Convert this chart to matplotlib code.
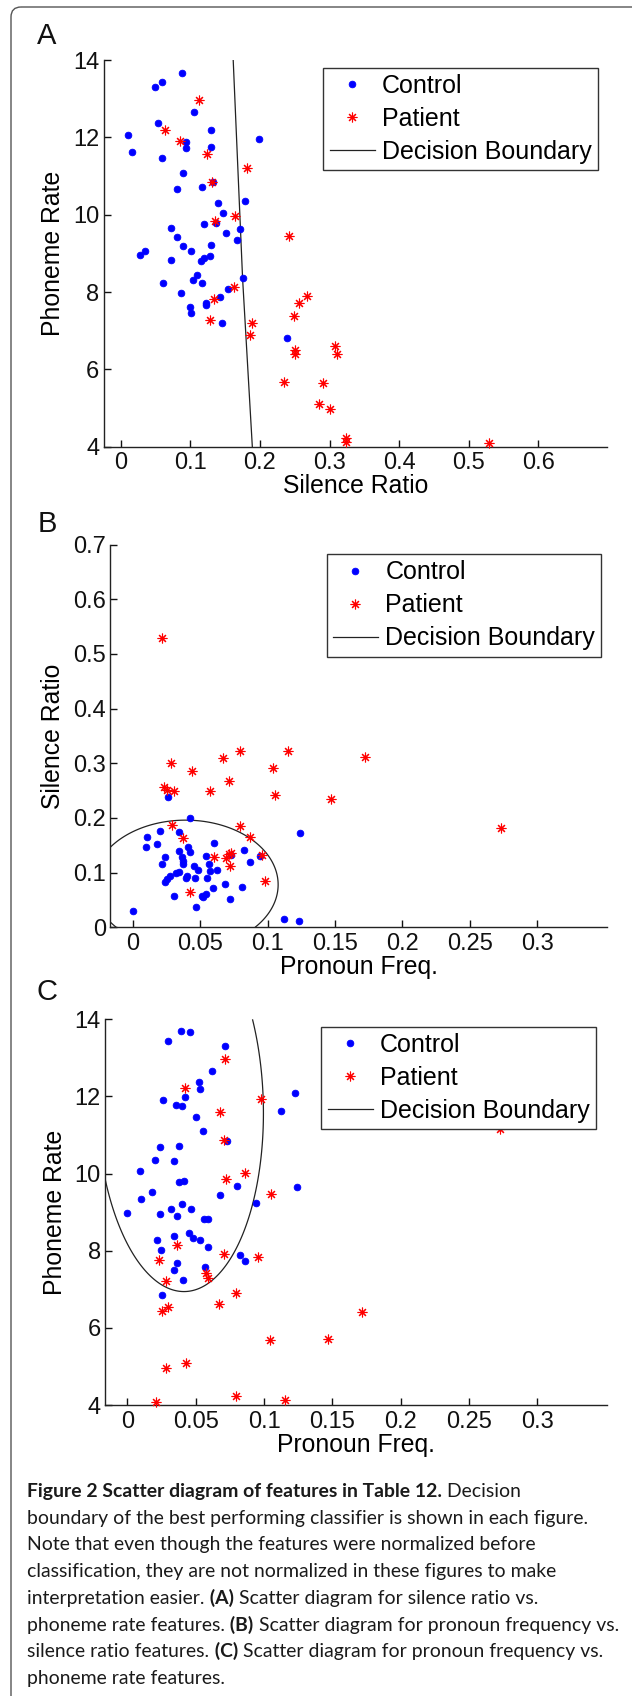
"""Scatter diagrams of speech features (control vs patient) with classifier decision boundaries."""

import matplotlib

matplotlib.use("Agg")
import matplotlib.pyplot as plt
import numpy as np
from matplotlib.lines import Line2D
from matplotlib.patches import FancyBboxPatch

W, H = 632, 1696
BLUE = "#0000ff"
RED = "#ff0000"
INK = "#1a1a1a"

# ---- panel A: silence ratio vs phoneme rate ----
A_CTRL_X = [0.0096, 0.0153, 0.049, 0.0585, 0.088, 0.1045, 0.0537, 0.0585, 0.093, 0.093,
            0.1294, 0.1294, 0.0896, 0.081, 0.1164, 0.1318, 0.140, 0.1466, 0.178, 0.1198,
            0.1366, 0.1514, 0.171, 0.1668, 0.0719, 0.080, 0.0896, 0.1002, 0.1294, 0.128,
            0.1198, 0.1146, 0.0278, 0.0345, 0.0714, 0.060, 0.103, 0.1097, 0.117, 0.175,
            0.154, 0.199, 0.087, 0.0997, 0.101, 0.1217, 0.123, 0.142, 0.145, 0.239]
A_CTRL_Y = [12.06, 11.61, 13.29, 13.44, 13.66, 12.66, 12.36, 11.47, 11.89, 11.73,
            12.18, 11.76, 11.09, 10.67, 10.71, 10.85, 10.29, 10.05, 10.35, 9.75,
            9.78, 9.52, 9.62, 9.34, 9.66, 9.42, 9.18, 9.07, 9.22, 8.93,
            8.87, 8.80, 8.97, 9.07, 8.83, 8.24, 8.31, 8.43, 8.24, 8.35,
            8.08, 11.97, 7.98, 7.60, 7.47, 7.71, 7.66, 7.86, 7.19, 6.80]
A_PAT_X = [0.1126, 0.0628, 0.0844, 0.124, 0.1816, 0.1313, 0.1347, 0.1643, 0.242, 0.163,
           0.1333, 0.1275, 0.188, 0.185, 0.249, 0.256, 0.267, 0.250, 0.250, 0.308,
           0.311, 0.235, 0.291, 0.285, 0.300, 0.323, 0.323, 0.530]
A_PAT_Y = [12.97, 12.18, 11.91, 11.57, 11.22, 10.85, 9.84, 9.97, 9.45, 8.14,
           7.81, 7.28, 7.19, 6.89, 7.38, 7.71, 7.90, 6.50, 6.41, 6.60,
           6.40, 5.67, 5.66, 5.10, 4.97, 4.23, 4.11, 4.09]
A_BOUND_X = [0.1615, 0.175, 0.189]
A_BOUND_Y = [14.0, 8.35, 4.0]

# ---- panel B: pronoun freq vs silence ratio ----
B_CTRL_X = [0.0, 0.0096, 0.0105, 0.018, 0.020, 0.0216, 0.024, 0.026, 0.024, 0.025,
            0.027, 0.030, 0.032, 0.034, 0.034, 0.034, 0.036, 0.037, 0.037, 0.039,
            0.041, 0.042, 0.0425, 0.040, 0.045, 0.046, 0.047, 0.048, 0.051, 0.052,
            0.054, 0.054, 0.055, 0.056, 0.057, 0.059, 0.060, 0.062, 0.068, 0.072,
            0.073, 0.081, 0.082, 0.087, 0.094, 0.112, 0.123, 0.124]
B_CTRL_Y = [0.030, 0.146, 0.166, 0.152, 0.177, 0.116, 0.129, 0.238, 0.083, 0.089,
            0.094, 0.058, 0.099, 0.101, 0.174, 0.140, 0.129, 0.122, 0.116, 0.091,
            0.146, 0.137, 0.200, 0.094, 0.113, 0.090, 0.038, 0.105, 0.058, 0.055,
            0.061, 0.131, 0.090, 0.115, 0.103, 0.072, 0.154, 0.104, 0.080, 0.052,
            0.132, 0.073, 0.141, 0.120, 0.130, 0.016, 0.011, 0.172]
B_PAT_X = [0.0216, 0.023, 0.025, 0.030, 0.028, 0.029, 0.037, 0.044, 0.0425, 0.057,
           0.060, 0.067, 0.069, 0.071, 0.071, 0.072, 0.073, 0.079, 0.079, 0.087,
           0.096, 0.098, 0.104, 0.105, 0.115, 0.147, 0.172, 0.273]
B_PAT_Y = [0.530, 0.257, 0.252, 0.250, 0.300, 0.187, 0.163, 0.286, 0.064, 0.250,
           0.129, 0.309, 0.127, 0.267, 0.134, 0.113, 0.135, 0.323, 0.185, 0.165,
           0.133, 0.085, 0.292, 0.242, 0.323, 0.235, 0.311, 0.181]
# quadratic boundary: qa*du^2 + qb*du*dv + qc*dv^2 = level
B_BOUND_CENTER = (0.039, 0.078)
B_BOUND_SCALE = (0.0687, 0.118)
B_BOUND_QUAD = (1.0, 0.0, 1.0)
B_BOUND_LEVEL = 1.0

# ---- panel C: pronoun freq vs phoneme rate ----
C_CTRL_X = [0.0, 0.0094, 0.0103, 0.018, 0.0204, 0.024, 0.024, 0.0215, 0.0248, 0.0263,
            0.0298, 0.0257, 0.0316, 0.034, 0.0342, 0.0357, 0.0366, 0.0342, 0.0366, 0.0375,
            0.0378, 0.0392, 0.040, 0.040, 0.041, 0.0416, 0.0425, 0.0448, 0.046, 0.0469,
            0.0478, 0.050, 0.0525, 0.0534, 0.0534, 0.0555, 0.0563, 0.057, 0.0587, 0.0593,
            0.0617, 0.0676, 0.0714, 0.0729, 0.0805, 0.0823, 0.0864, 0.0941, 0.1124, 0.123,
            0.1239]
C_CTRL_Y = [8.99, 10.07, 9.35, 9.53, 10.36, 10.70, 8.96, 8.28, 8.01, 11.90,
            13.45, 6.84, 9.09, 10.32, 8.38, 11.78, 7.69, 7.50, 8.91, 9.78,
            10.72, 13.69, 11.76, 9.20, 7.23, 9.80, 11.98, 8.47, 13.66, 9.09,
            8.34, 11.47, 12.37, 12.19, 8.28, 11.11, 8.81, 7.59, 8.83, 8.09,
            12.66, 9.44, 13.30, 10.84, 9.69, 7.89, 7.73, 9.24, 11.63, 12.08,
            9.66]
C_PAT_X = [0.0711, 0.0425, 0.0678, 0.0976, 0.0708, 0.0723, 0.0861, 0.1053, 0.0363, 0.0705,
           0.0959, 0.023, 0.0286, 0.0572, 0.0593, 0.0794, 0.0298, 0.0257, 0.067, 0.1714,
           0.1044, 0.1469, 0.2726, 0.028, 0.0431, 0.0212, 0.0794, 0.1153]
C_PAT_Y = [12.97, 12.22, 11.60, 11.94, 10.88, 9.87, 10.01, 9.47, 8.16, 7.92,
           7.83, 7.75, 7.22, 7.43, 7.30, 6.90, 6.54, 6.44, 6.63, 6.42,
           5.68, 5.71, 11.16, 4.95, 5.10, 4.09, 4.23, 4.13]
C_BOUND_CENTER = (0.0385, 11.80)
C_BOUND_SCALE = (0.06, 4.0)
C_BOUND_QUAD = (1.0, 0.0802, 0.7022)
C_BOUND_LEVEL = 1.0338

CAPTION_LINES = [
    [("Figure 2 Scatter diagram of features in Table 12.", True), (" Decision", False)],
    [("boundary of the best performing classifier is shown in each figure.", False)],
    [("Note that even though the features were normalized before", False)],
    [("classification, they are not normalized in these figures to make", False)],
    [("interpretation easier.", False), (" (A)", True), (" Scatter diagram for silence ratio vs.", False)],
    [("phoneme rate features.", False), (" (B)", True), (" Scatter diagram for pronoun frequency vs.", False)],
    [("silence ratio features.", False), (" (C)", True), (" Scatter diagram for pronoun frequency vs.", False)],
    [("phoneme rate features.", False)],
]

plt.rcParams["font.family"] = ["Liberation Sans", "DejaVu Sans"]


def px_axes(fig, left, top, right, bottom):
    return fig.add_axes([left / W, 1 - bottom / H, (right - left) / W, (bottom - top) / H])


def style_axes(ax, xlim, ylim, xticks, xlabels, yticks, ylabels, xlabel, ylabel):
    ax.set_xlim(xlim)
    ax.set_ylim(ylim)
    ax.set_xticks(xticks)
    ax.set_xticklabels(xlabels)
    ax.set_yticks(yticks)
    ax.set_yticklabels(ylabels)
    for side in ("top", "right"):
        ax.spines[side].set_visible(False)
    for side in ("left", "bottom"):
        ax.spines[side].set_linewidth(1.0)
        ax.spines[side].set_color("#222222")
    ax.tick_params(direction="in", length=5, width=1, labelsize=17, colors="#111111")
    ax.tick_params(axis="x", pad=4)
    ax.tick_params(axis="y", pad=3)
    ax.set_xlabel(xlabel, fontsize=17.8, labelpad=0)
    ax.set_ylabel(ylabel, fontsize=17.8, labelpad=5.5)
    ax.patch.set_alpha(0)


def scatter_groups(ax, cx, cy, px, py):
    ax.plot(cx, cy, ls="none", marker="o", ms=4.8, mfc=BLUE, mec=BLUE, mew=0.6,
            label="Control", clip_on=False, zorder=3)
    ax.plot(px, py, ls="none", marker=(8, 2, 0), ms=7, mec=RED, mew=0.8,
            label="Patient", clip_on=False, zorder=3)


def quad_boundary(ax, center, scale, quad, level):
    x0, x1 = ax.get_xlim()
    y0, y1 = ax.get_ylim()
    gx, gy = np.meshgrid(np.linspace(x0, x1, 600), np.linspace(y0, y1, 600))
    du = (gx - center[0]) / scale[0]
    dv = (gy - center[1]) / scale[1]
    z = quad[0] * du ** 2 + quad[1] * du * dv + quad[2] * dv ** 2 - level
    ax.contour(gx, gy, z, levels=[0], colors="#222222", linewidths=0.9, zorder=2)


def add_legend(ax, fig, left, top):
    handles = ax.get_legend_handles_labels()[0][:2]
    handles.append(Line2D([], [], color="#222222", lw=0.9))
    leg = ax.legend(handles, ["Control", "Patient", "Decision Boundary"],
                    loc="upper left", bbox_to_anchor=(left / W, 1 - top / H),
                    bbox_transform=fig.transFigure, borderaxespad=0,
                    fontsize=18, frameon=True, fancybox=False, framealpha=1,
                    edgecolor="#333333", borderpad=0.25, labelspacing=0.36,
                    handlelength=1.8, handletextpad=0.3, numpoints=1)
    leg.get_frame().set_linewidth(1.0)
    leg.set_zorder(5)


def draw_caption(page, renderer, size):
    texts = []
    right = 0.0
    for i, runs in enumerate(CAPTION_LINES):
        x = 27.4
        y = 1497 + i * 26.7
        for txt, bold in runs:
            t = page.text(x, y, txt, fontsize=size, family=["Lato", "DejaVu Sans"],
                          fontweight="bold" if bold else "normal", color=INK,
                          ha="left", va="baseline")
            x = t.get_window_extent(renderer).x1
            texts.append(t)
        right = max(right, x)
    return texts, right


def main() -> None:
    fig = plt.figure(figsize=(W / 100, H / 100), dpi=100)

    # page overlay in pixel coordinates
    page = fig.add_axes([0, 0, 1, 1], zorder=-1)
    page.set_xlim(0, W)
    page.set_ylim(H, 0)
    page.axis("off")
    page.add_patch(FancyBboxPatch((11, 7), 660, 1720,
                                  boxstyle="round,pad=0,rounding_size=10",
                                  fc="none", ec="#555555", lw=1.0, clip_on=False))
    for letter, yc in (("A", 36), ("B", 524), ("C", 992)):
        page.text(47, yc, letter, fontsize=21, ha="center", va="center", color="#111111")

    # panel A
    ax_a = px_axes(fig, 103.5, 60, 607, 446.7)
    style_axes(ax_a, (-0.025, 0.699), (4, 14),
               [0, 0.1, 0.2, 0.3, 0.4, 0.5, 0.6], ["0", "0.1", "0.2", "0.3", "0.4", "0.5", "0.6"],
               [4, 6, 8, 10, 12, 14], ["4", "6", "8", "10", "12", "14"],
               "Silence Ratio", "Phoneme Rate")
    scatter_groups(ax_a, A_CTRL_X, A_CTRL_Y, A_PAT_X, A_PAT_Y)
    ax_a.plot(A_BOUND_X, A_BOUND_Y, color="#222222", lw=0.9, zorder=2)
    add_legend(ax_a, fig, 323.3, 67.7)

    # panel B
    ax_b = px_axes(fig, 110, 544.6, 607, 927.3)
    style_axes(ax_b, (-0.0172, 0.352), (0, 0.7),
               [0, 0.05, 0.1, 0.15, 0.2, 0.25, 0.3], ["0", "0.05", "0.1", "0.15", "0.2", "0.25", "0.3"],
               [0, 0.1, 0.2, 0.3, 0.4, 0.5, 0.6, 0.7],
               ["0", "0.1", "0.2", "0.3", "0.4", "0.5", "0.6", "0.7"],
               "Pronoun Freq.", "Silence Ratio")
    scatter_groups(ax_b, B_CTRL_X, B_CTRL_Y, B_PAT_X, B_PAT_Y)
    quad_boundary(ax_b, B_BOUND_CENTER, B_BOUND_SCALE, B_BOUND_QUAD, B_BOUND_LEVEL)
    add_legend(ax_b, fig, 326.6, 554)

    # panel C
    ax_c = px_axes(fig, 104.8, 1019.3, 607, 1405)
    style_axes(ax_c, (-0.0165, 0.351), (4, 14),
               [0, 0.05, 0.1, 0.15, 0.2, 0.25, 0.3], ["0", "0.05", "0.1", "0.15", "0.2", "0.25", "0.3"],
               [4, 6, 8, 10, 12, 14], ["4", "6", "8", "10", "12", "14"],
               "Pronoun Freq.", "Phoneme Rate")
    scatter_groups(ax_c, C_CTRL_X, C_CTRL_Y, C_PAT_X, C_PAT_Y)
    quad_boundary(ax_c, C_BOUND_CENTER, C_BOUND_SCALE, C_BOUND_QUAD, C_BOUND_LEVEL)
    add_legend(ax_c, fig, 321.4, 1026.7)

    # caption: fit the longest line to end where the reference's does (~618 px)
    renderer = fig.canvas.get_renderer()
    base = 12.0
    texts, right = draw_caption(page, renderer, base)
    for t in texts:
        t.remove()
    size = base * (618 - 27.4) / (right - 27.4)
    draw_caption(page, renderer, size)

    fig.savefig("out.png", dpi=100)
    plt.close(fig)


if __name__ == "__main__":
    main()
